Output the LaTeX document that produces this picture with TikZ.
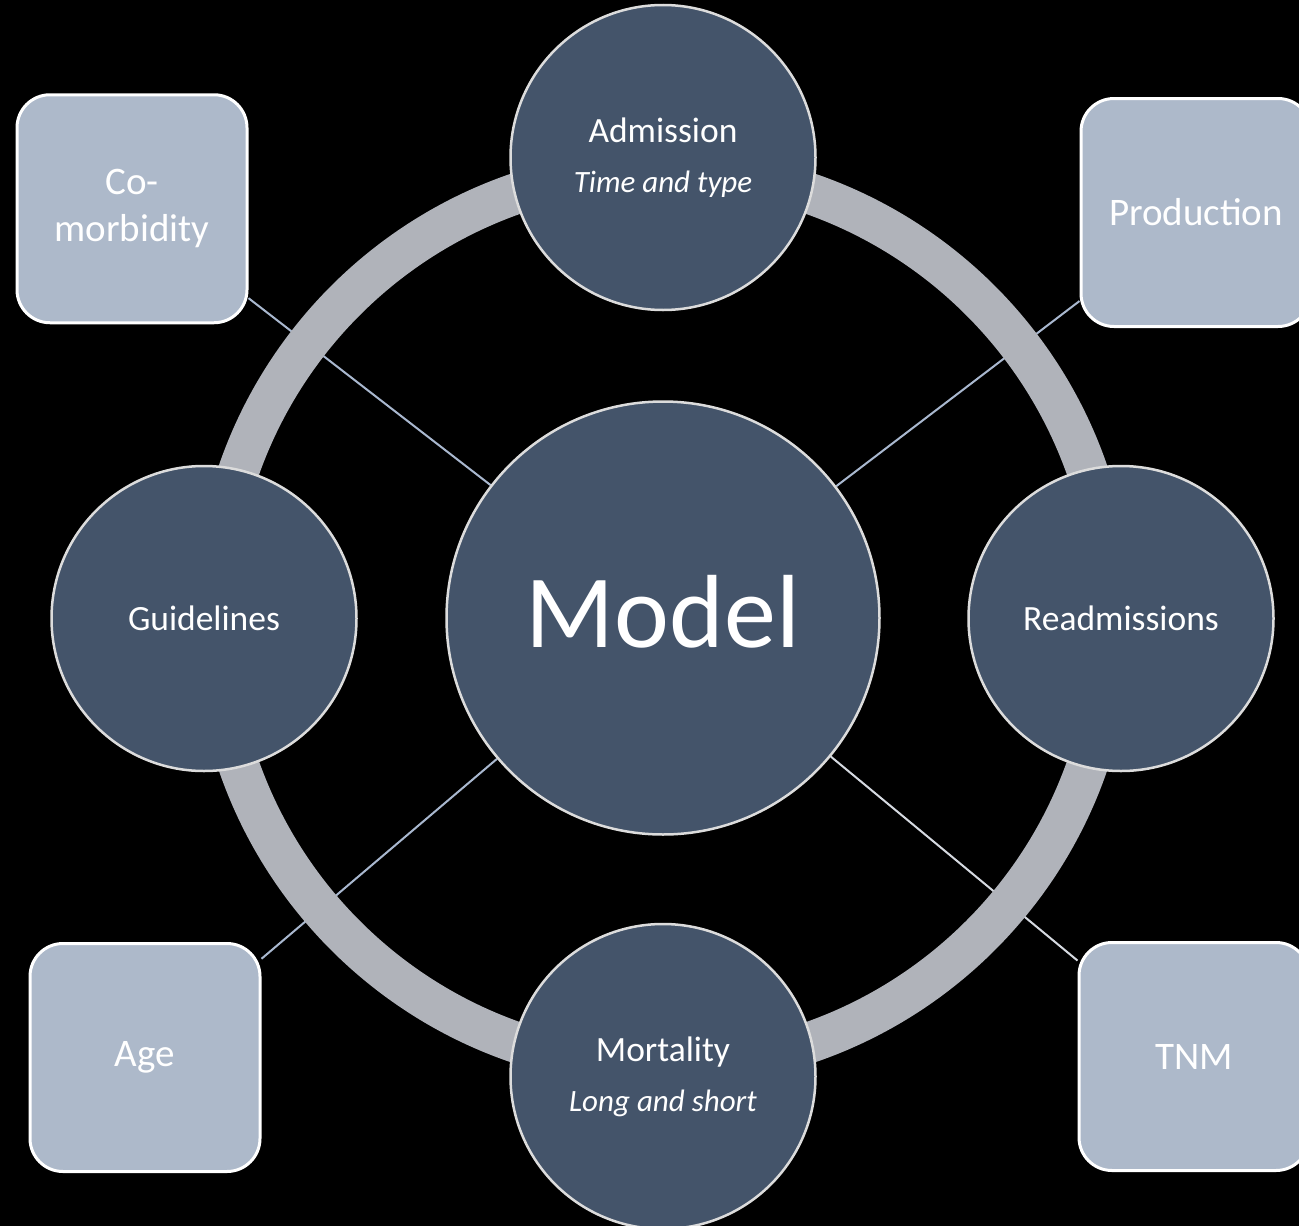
\documentclass[tikz,border=0pt]{standalone}
\usepackage{fontspec}
\setmainfont{Carlito}
\definecolor{circfill}{HTML}{44546A}
\definecolor{sqfill}{HTML}{ADB9CA}
\definecolor{ringc}{HTML}{B0B3BA}
\definecolor{linkblue}{HTML}{A9B8CF}
\definecolor{linkgray}{HTML}{D6DAE1}
\definecolor{circedge}{HTML}{DCDCDC}
\pgfdeclarelayer{back}
\pgfdeclarelayer{links}
\pgfdeclarelayer{ringl}
\pgfsetlayers{back,links,ringl,main}
\begin{document}
\begin{tikzpicture}[x=1pt,y=-1pt,
  hub/.style={circle, fill=circfill, draw=circedge, line width=2.5pt, inner sep=0pt,
    minimum size=305pt, text=white, align=center, font=\fontsize{35.5}{50}\selectfont},
  factor/.style={rectangle, rounded corners=33pt, fill=sqfill, draw=white, line width=3pt,
    minimum width=230pt, minimum height=228pt, inner sep=0pt, text=white, align=center,
    font=\fontsize{39}{47}\selectfont},
  link/.style={line width=2pt, draw=linkblue},
  ringstyle/.style={circle, draw=ringc, line width=41pt, minimum size=898pt, inner sep=0pt}]
\useasboundingbox (0,0) rectangle (1299,1226);
\begin{pgfonlayer}{back}
\fill[black] (0,0) rectangle (1299,1226);
\end{pgfonlayer}

\node[hub, minimum size=433pt, font=\fontsize{104}{104}\selectfont,
      text height=74pt, text depth=16pt] (model) at (663,618) {Model};
\node[hub] (adm) at (663,157.5) {Admission\\{\fontsize{31}{50}\selectfont\itshape Time and type}};
\node[hub] (mort) at (663,1076.5) {Mortality\\{\fontsize{31}{50}\selectfont\itshape Long and short}};
\node[hub] (guid) at (204,618.5) {Guidelines};
\node[hub] (readm) at (1121,618.5) {Readmissions};

\node[factor] (como) at (132,208.75) {Co-\\morbidity};
\node[factor] (prod) at (1196,212.5) {Production};
\node[factor] (age) at (145,1057.5) {Age};
\node[factor] (tnm) at (1194,1056.5) {TNM};

\begin{pgfonlayer}{ringl}
\node[ringstyle] (ring) at (663,618) {};
\end{pgfonlayer}

\begin{pgfonlayer}{links}
\draw[link] (como) -- (model);
\draw[link] (prod) -- (model);
\draw[link] (age) -- (model);
\draw[link, draw=linkgray] (tnm) -- (model);
\end{pgfonlayer}
\end{tikzpicture}
\end{document}
